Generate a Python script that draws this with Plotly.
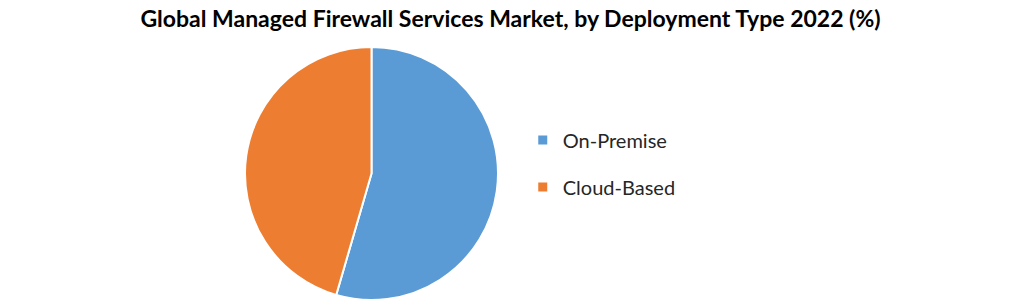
import plotly.graph_objects as go

title = "Global Managed Firewall Services Market, by Deployment Type 2022 (%)"
labels = ["On-Premise", "Cloud-Based"]
values = [54.5, 45.5]
colors = ["#5B9BD5", "#ED7D31"]

fig = go.Figure()
cx = 371.5 / 1021
fig.add_trace(go.Pie(
    labels=labels, values=values, sort=False, direction="clockwise", rotation=0,
    marker=dict(colors=colors, line=dict(color="white", width=2)),
    textinfo="none", hoverinfo="label+percent", showlegend=False,
    domain=dict(x=[cx - 0.15, cx + 0.15], y=[0, 1]),
))
for i, (lab, col) in enumerate(zip(labels, colors)):
    fig.add_trace(go.Scatter(
        x=[None], y=[None], mode="markers", name=lab,
        marker=dict(symbol="square", size=9, color=col),
        legendgroup=lab, showlegend=True,
    ))

fig.update_layout(
    width=1021, height=304,
    margin=dict(l=0, r=0, t=47, b=4),
    paper_bgcolor="white", plot_bgcolor="white",
    title=dict(text="<b>" + title + "</b>", x=0.5, xanchor="center", y=0.965, yanchor="top",
               font=dict(family="Lato", size=23, color="black")),
    xaxis=dict(visible=False), yaxis=dict(visible=False),
    legend=dict(x=0.512, y=0.54, xanchor="left", yanchor="middle",
                font=dict(family="Lato", size=20, color="#262626"),
                tracegroupgap=18, traceorder="grouped", itemwidth=30,
                bgcolor="rgba(0,0,0,0)"),
)
fig.write_html("out.html")
